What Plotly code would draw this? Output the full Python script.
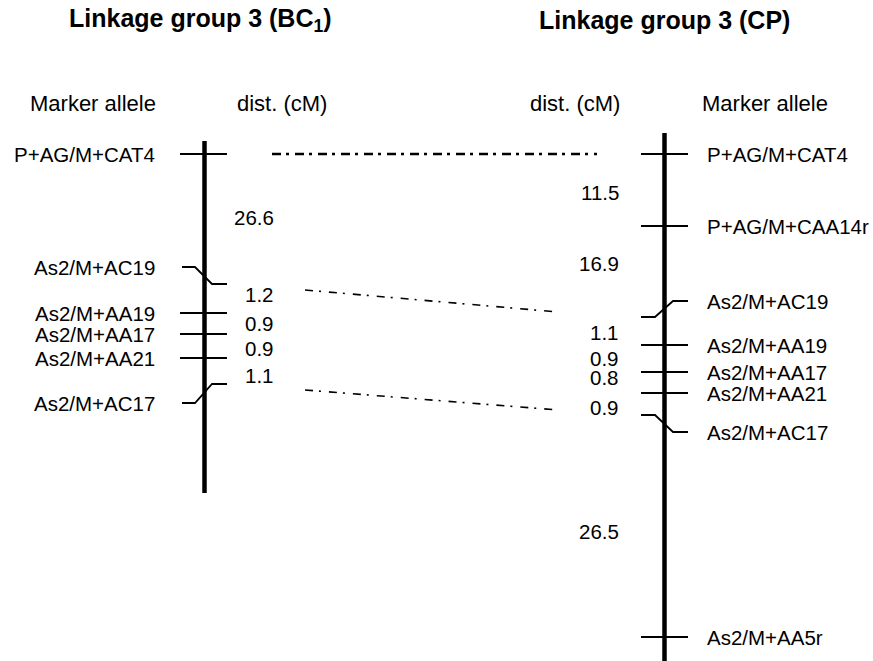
import plotly.graph_objects as go

# ---------------- data ----------------
bc1_title = "Linkage group 3 (BC<sub>1</sub>)"
cp_title = "Linkage group 3 (CP)"
bc1_markers = ["P+AG/M+CAT4", "As2/M+AC19", "As2/M+AA19", "As2/M+AA17",
               "As2/M+AA21", "As2/M+AC17"]
bc1_dist = [26.6, 1.2, 0.9, 0.9, 1.1]
cp_markers = ["P+AG/M+CAT4", "P+AG/M+CAA14r", "As2/M+AC19", "As2/M+AA19",
              "As2/M+AA17", "As2/M+AA21", "As2/M+AC17", "As2/M+AA5r"]
cp_dist = [11.5, 16.9, 1.1, 0.9, 0.8, 0.9, 26.5]
# shared markers linked between maps (index in bc1, index in cp)
links = [(0, 0, "major"), (1, 2, "minor"), (5, 6, "minor")]

# ---------------- layout (drawing coordinates) ----------------
W, H = 873, 661
FONT = "Liberation Sans, Arial, Helvetica, sans-serif"

bc1_bar_x, bc1_bar_top, bc1_bar_bot = 204.5, 141, 493
bc1_tick_y = [154, 284, 313, 334, 358, 384]      # chromosome-side y
bc1_label_y = [154, 267, 313, 334, 358, 403]     # label-side y
bc1_dist_y = [217, 294, 323, 348, 375]

cp_bar_x, cp_bar_top, cp_bar_bot = 664.5, 133, 661
cp_tick_y = [154, 226, 317, 345, 372, 393, 415, 637]   # dist-side y
cp_label_y = [154, 226, 301, 345, 372, 393, 432, 637]  # label-side y
cp_dist_y = [192, 263, 332, 358, 377, 407, 531]

fig = go.Figure()


def line(xs, ys, width=1.8, dash=None):
    fig.add_trace(go.Scatter(
        x=xs, y=ys, mode="lines",
        line=dict(color="black", width=width, dash=dash),
        hoverinfo="skip", showlegend=False))


def text(x, y, s, size=21, xanchor="center", bold=False):
    if bold:
        s = "<b>" + s + "</b>"
    fig.add_annotation(x=x, y=y, text=s, showarrow=False, xref="x", yref="y",
                       xanchor=xanchor, yanchor="middle",
                       font=dict(family=FONT, size=size, color="black"))


# ---- BC1 map (left) ----
for name, ty, ly in zip(bc1_markers, bc1_tick_y, bc1_label_y):
    if ty == ly:
        line([180, 227], [ty, ty])
    else:
        line([182, 195, 212, 227], [ly, ly, ty, ty])
    text(157, ly, name, size=20.5, xanchor="right")
line([bc1_bar_x, bc1_bar_x], [bc1_bar_top, bc1_bar_bot], width=4.5)
for d, y in zip(bc1_dist, bc1_dist_y):
    text(276, y, f"{d:.1f}", size=20.5, xanchor="right")

# ---- CP map (right) ----
for name, ty, ly in zip(cp_markers, cp_tick_y, cp_label_y):
    if ty == ly:
        line([641, 688], [ty, ty])
    else:
        line([641, 655, 673, 688], [ty, ty, ly, ly])
    text(705, ly, name, size=20.5, xanchor="left")
line([cp_bar_x, cp_bar_x], [cp_bar_top, cp_bar_bot], width=4.5)
for d, y in zip(cp_dist, cp_dist_y):
    text(621, y, f"{d:.1f}", size=20.5, xanchor="right")

# ---- correspondence lines ----
for i, j, kind in links:
    if kind == "major":
        line([272, 597], [bc1_tick_y[i], cp_tick_y[j]], width=2.6,
             dash="9px,5px,3px,6px")
    else:
        line([305, 558], [bc1_tick_y[i] + 6, cp_tick_y[j] - 5], width=1.6,
             dash="8px,6px,2px,8px")

# ---- headers ----
text(200, 20, bc1_title, size=25, bold=True)
text(664, 20, cp_title, size=25, bold=True)
text(93, 103, "Marker allele", size=22)
text(282, 103, "dist. (cM)", size=22)
text(575, 103, "dist. (cM)", size=22)
text(765, 103, "Marker allele", size=22)

fig.update_layout(
    width=W, height=H,
    margin=dict(l=0, r=0, t=0, b=0),
    paper_bgcolor="white", plot_bgcolor="white",
    xaxis=dict(range=[0, W], visible=False, fixedrange=True),
    yaxis=dict(range=[H, 0], visible=False, fixedrange=True),
    showlegend=False,
)
fig.write_html("out.html")
